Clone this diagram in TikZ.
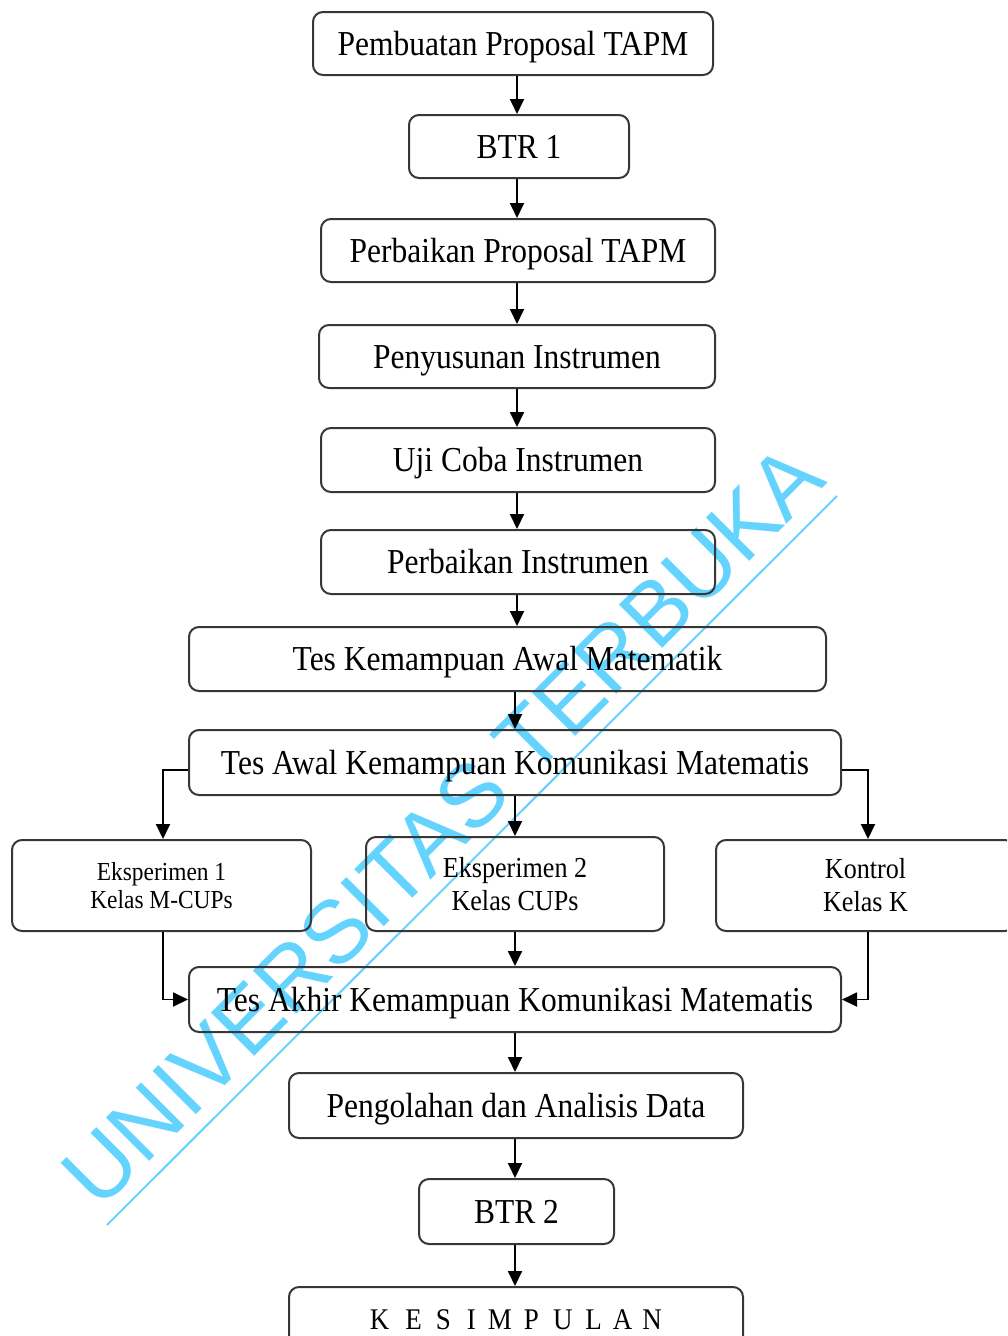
\documentclass[tikz,border=0pt]{standalone}
\usepackage{fontspec}
\setmainfont{Liberation Serif}[FakeStretch=0.9]
\newfontfamily\wmfont{Liberation Sans}
\usetikzlibrary{arrows.meta,calc}
\definecolor{wmblue}{RGB}{100,212,255}
\definecolor{boxline}{RGB}{55,55,55}
\tikzset{
  box/.style={draw=boxline, line width=2pt, rounded corners=10pt, inner sep=0pt,
    text height=23pt, text depth=0pt, font=\fontsize{35}{40}\selectfont},
  sbox/.style={draw=boxline, line width=2pt, rounded corners=10pt, inner sep=0pt, align=center},
  arr/.style={line width=1.9pt, -{Triangle[length=15pt,width=14pt]}},
}
\begin{document}
\begin{tikzpicture}[x=1pt,y=-1pt]
\useasboundingbox (0,0) rectangle (1007,1336);
\clip (0,0) rectangle (1007,1336);
% watermark
\coordinate (wl1) at (107,1225);
\coordinate (wl2) at (837,496);
\node[rotate=45, anchor=base, inner sep=0pt, text=wmblue,
  font=\wmfont\fontsize{89}{92}\selectfont] (wm) at (464,847) {UNIVERSITAS TERBUKA};
\draw[wmblue, line width=2pt] (wl1) -- (wl2);
% column coordinates
\coordinate (cx) at (517,0);
\coordinate (cy) at (515,0);
% nodes
\node[box, minimum width=400pt, minimum height=63pt] (n1) at (513,43.5) {Pembuatan Proposal TAPM};
\node[box, minimum width=220pt, minimum height=63pt] (n2) at (519,146.5) {BTR 1};
\node[box, minimum width=394pt, minimum height=63pt] (n3) at (518,250.5) {Perbaikan Proposal TAPM};
\node[box, minimum width=396pt, minimum height=63pt] (n4) at (517,356.5) {Penyusunan Instrumen};
\node[box, minimum width=394pt, minimum height=64pt] (n5) at (518,460) {Uji Coba Instrumen};
\node[box, minimum width=394pt, minimum height=64pt] (n6) at (518,562) {Perbaikan Instrumen};
\node[box, minimum width=637pt, minimum height=64pt] (n7) at (507.5,659) {Tes Kemampuan Awal Matematik};
\node[box, minimum width=652pt, minimum height=65pt] (n8) at (515,762.5) {Tes Awal Kemampuan Komunikasi Matematis};
\node[sbox, minimum width=299pt, minimum height=91pt, font=\fontsize{26}{28}\selectfont] (e1) at (161.5,885.5) {Eksperimen 1\\Kelas M-CUPs};
\node[sbox, minimum width=298pt, minimum height=94pt, font=\fontsize{29}{33}\selectfont] (e2) at (515,884) {Eksperimen 2\\Kelas CUPs};
\node[sbox, minimum width=299pt, minimum height=91pt, font=\fontsize{29}{33}\selectfont] (k) at (865.5,885.5) {Kontrol\\Kelas K};
\node[box, minimum width=652pt, minimum height=65pt] (n12) at (515,999.5) {Tes Akhir Kemampuan Komunikasi Matematis};
\node[box, minimum width=454pt, minimum height=65pt] (n13) at (516,1105.5) {Pengolahan dan Analisis Data};
\node[box, minimum width=195pt, minimum height=65pt] (n14) at (516.5,1211.5) {BTR 2};
\node[box, minimum width=454pt, minimum height=64pt, text height=20pt, font=\fontsize{30}{34}\selectfont] (n15) at (516,1319)
  {K\hspace{16pt}E\hspace{14pt}S\hspace{16pt}I\hspace{12pt}M\hspace{12pt}P\hspace{14pt}U\hspace{13pt}L\hspace{11pt}A\hspace{10pt}N};
% arrows
\draw[arr] (n1.south -| cx) -- (n2.north -| cx);
\draw[arr] (n2.south -| cx) -- (n3.north -| cx);
\draw[arr] (n3.south -| cx) -- (n4.north -| cx);
\draw[arr] (n4.south -| cx) -- (n5.north -| cx);
\draw[arr] (n5.south -| cx) -- (n6.north -| cx);
\draw[arr] (n6.south -| cx) -- (n7.north -| cx);
\draw[arr] (n7.south -| cy) -- (n8.north -| cy);
\draw[arr] (n8.south -| cy) -- (e2.north -| cy);
\draw[arr] ([yshift=-7.5pt]n8.west) -| ([xshift=1.5pt]e1.north);
\draw[arr] ([yshift=-7.5pt]n8.east) -| ([xshift=2.5pt]k.north);
\draw[arr] (e2.south -| cy) -- (n12.north -| cy);
\draw[arr] ([xshift=1.5pt]e1.south) |- (n12.west);
\draw[arr] ([xshift=2.5pt]k.south) |- (n12.east);
\draw[arr] (n12.south -| cy) -- (n13.north -| cy);
\draw[arr] (n13.south -| cy) -- (n14.north -| cy);
\draw[arr] (n14.south -| cy) -- (n15.north -| cy);
\end{tikzpicture}
\end{document}
